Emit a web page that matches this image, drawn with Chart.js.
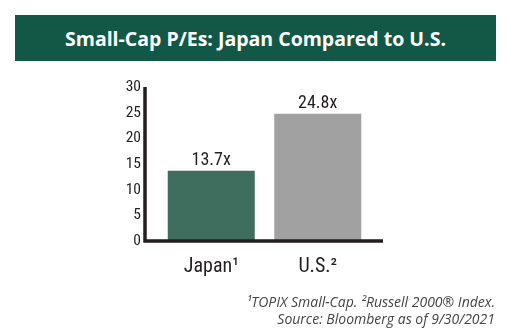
<!DOCTYPE html>
<html>
<head>
<meta charset="utf-8">
<script src="https://cdn.jsdelivr.net/npm/chart.js@4"></script>
<style>
  html, body { margin: 0; padding: 0; background: #fff; }
  body { width: 521px; height: 331px; position: relative; overflow: hidden; }
  #header {
    position: absolute; left: 15px; top: 15px; width: 481px; height: 46px;
    background: #135846; color: #fff;
    font: bold 19.5px "Open Sans", sans-serif;
    display: flex; align-items: center; justify-content: center;
  }
  #wrap { position: absolute; left: 0; top: 0; width: 521px; height: 331px; }
  #note {
    position: absolute; right: 26px; top: 293px; text-align: right;
    font: italic 14px "Open Sans", sans-serif; color: #444; line-height: 17px;
  }
</style>
</head>
<body>
<div id="header">Small-Cap P/Es: Japan Compared to U.S.</div>
<div id="wrap"><canvas id="chart" width="521" height="331"></canvas></div>
<div id="note">¹TOPIX Small-Cap. ²Russell 2000® Index.<br>Source: Bloomberg as of 9/30/2021</div>
<script>
const categories = ['Japan¹', 'U.S.²'];
const peValues = [13.7, 24.8];
const barColors = ['#3f6e5f', '#a0a1a0'];
const yTicks = [0, 5, 10, 15, 20, 25, 30];

const narrow = '"Roboto Condensed", sans-serif';

// axis lines sit a bit outside the plot area, like the original
const axisLines = {
  id: 'axisLines',
  afterDatasetsDraw(chart) {
    const { ctx, chartArea } = chart;
    const x0 = chartArea.left - 13;
    ctx.save();
    ctx.strokeStyle = '#231f20';
    ctx.lineWidth = 3.5;
    ctx.beginPath();
    ctx.moveTo(x0, chartArea.top);
    ctx.lineTo(x0, chartArea.bottom);
    ctx.lineTo(chartArea.right + 12, chartArea.bottom);
    ctx.stroke();
    ctx.restore();
  }
};

const valueLabels = {
  id: 'valueLabels',
  afterDatasetsDraw(chart) {
    const { ctx } = chart;
    const meta = chart.getDatasetMeta(0);
    ctx.save();
    ctx.font = '18px ' + narrow;
    ctx.fillStyle = '#231f20';
    ctx.textAlign = 'center';
    ctx.textBaseline = 'alphabetic';
    meta.data.forEach((bar, i) => {
      ctx.fillText(peValues[i].toFixed(1) + 'x', bar.x, bar.y - 6);
    });
    ctx.restore();
  }
};

new Chart(document.getElementById('chart'), {
  type: 'bar',
  data: {
    labels: categories,
    datasets: [{
      data: peValues,
      backgroundColor: barColors,
      barPercentage: 0.817,
      categoryPercentage: 1
    }]
  },
  options: {
    responsive: false,
    animation: false,
    layout: { padding: { top: 87, right: 150, left: 0, bottom: 0 } },
    plugins: { legend: { display: false }, tooltip: { enabled: false } },
    scales: {
      x: {
        grid: { display: false, drawTicks: false },
        border: { display: false },
        ticks: { color: '#231f20', font: { family: narrow, size: 20 }, padding: 14 },
        afterFit(scale) { scale.height = 90; }
      },
      y: {
        min: 0, max: 30,
        afterBuildTicks(scale) { scale.ticks = yTicks.map(v => ({ value: v })); },
        grid: { display: false, drawTicks: false },
        border: { display: false },
        ticks: { color: '#231f20', font: { family: narrow, size: 15.5 }, padding: 17 },
        afterFit(scale) { scale.width = 158; }
      }
    }
  },
  plugins: [axisLines, valueLabels]
});
</script>
</body>
</html>
